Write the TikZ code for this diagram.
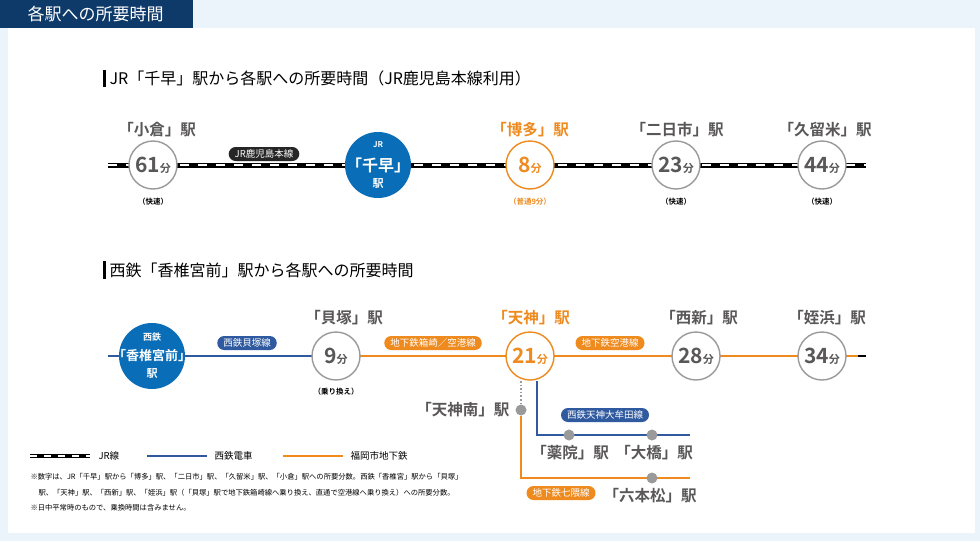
\documentclass[tikz,border=0pt]{standalone}
\usepackage{fontspec}
\setmainfont{Noto Sans CJK JP}[BoldFont={Noto Sans CJK JP Bold}]
\definecolor{bgb}{HTML}{EAF4FA}
\definecolor{navy}{HTML}{0E3A6A}
\definecolor{cblue}{HTML}{0A6DB8}
\definecolor{nblue}{HTML}{2F5AA0}
\definecolor{orng}{HTML}{EE8A1E}
\definecolor{gtx}{HTML}{595757}
\definecolor{gci}{HTML}{9A9A9A}
\begin{document}
\begin{tikzpicture}[x=1pt,y=-1pt,
  st/.style={circle,draw=gci,line width=1.4pt,fill=white,minimum size=48pt,inner sep=0pt,text=gtx},
  ost/.style={st,draw=orng,text=orng},
  big/.style={circle,fill=cblue,minimum size=66pt,inner sep=0pt},
  bt/.style={text=white,font=\bfseries,inner sep=0pt},
  lbl/.style={text=gtx,font=\fontsize{15.5}{15.5}\selectfont\bfseries},
  olbl/.style={lbl,text=orng},
  sub/.style={text=black,font=\fontsize{7.5}{7.5}\selectfont\bfseries},
  pill/.style={rounded corners=7pt,fill=#1,text=white,font=\fontsize{9.5}{9.5}\selectfont,inner xsep=6pt,inner ysep=2pt,minimum height=14pt},
  dot/.style={circle,fill=gci,minimum size=11pt,inner sep=0pt},
  jr/.style={line width=5pt,black},
  jrw/.style={line width=2.6pt,white,dash pattern=on 9pt off 9pt},
  note/.style={font=\fontsize{7.3}{9}\selectfont,anchor=west,text=black}]
\useasboundingbox (0,0) rectangle (980,541);
\fill[bgb] (0,0) rectangle (980,541);
\fill[white] (8,28) rectangle (975,533);
\fill[navy] (0,0) rectangle (193,28);
\node[text=white,anchor=west,font=\fontsize{17}{17}\selectfont] (ttl) at (24,14) {各駅への所要時間};
% section titles
\fill[black] (103,70) rectangle (106,87);
\node[anchor=west,font=\fontsize{16}{16}\selectfont] (t1) at (106,78) {JR「千早」駅から各駅への所要時間（JR鹿児島本線利用）};
\fill[black] (103,261) rectangle (106,279);
\node[anchor=west,font=\fontsize{16}{16}\selectfont] (t2) at (106,270) {西鉄「香椎宮前」駅から各駅への所要時間};
% JR line
\coordinate (jl) at (108,165); \coordinate (jr) at (866,165);
\draw[jr] (jl) -- (jr);
\draw[jrw] (jl) -- (jr);
\newcommand{\mn}[1]{{\fontsize{21}{21}\selectfont\bfseries #1}{\fontsize{11}{11}\selectfont\bfseries 分}}
\node[st] (kok) at (153,165) {\mn{61}};
\node[big] (chi) at (378,165) {};
\node[bt,font=\fontsize{8}{8}\selectfont\bfseries] at (378,145) {JR};
\node[bt,font=\fontsize{16}{16}\selectfont\bfseries] at (378,165) {「千早」};
\node[bt,font=\fontsize{11}{11}\selectfont\bfseries] at (378,184) {駅};
\node[ost] (hak) at (530,165) {\mn{8}};
\node[st] (fut) at (676,165) {\mn{23}};
\node[st] (kur) at (822,165) {\mn{44}};
\node[lbl] at (157,130) {「小倉」駅};
\node[olbl] at (530,130) {「博多」駅};
\node[lbl] at (677,130) {「二日市」駅};
\node[lbl] at (825,130) {「久留米」駅};
\node[sub] at (153,202) {（快速）};
\node[sub,text=orng] at (530,202) {（普通9分）};
\node[sub] at (676,202) {（快速）};
\node[sub] at (822,202) {（快速）};
\node[pill=black!85] (pj) at (264,154) {JR鹿児島本線};
% Nishitetsu / subway line
\coordinate (nl) at (108,356); \coordinate (nr) at (866,356);
\draw[nblue,line width=2.2pt] (nl) -- (336,356);
\draw[orng,line width=2.2pt] (336,356) -- (nr);
\draw[black,line width=2.2pt] (858,356) -- (nr);
\node[big] (kas) at (152,356) {};
\node[bt,font=\fontsize{9}{9}\selectfont\bfseries] at (152,337) {西鉄};
\node[bt,font=\fontsize{13}{13}\selectfont\bfseries] at (152,356) {「香椎宮前」};
\node[bt,font=\fontsize{11}{11}\selectfont\bfseries] at (152,374) {駅};
\node[st] (kai) at (336,356) {\mn{9}};
\node[ost] (ten) at (530,356) {\mn{21}};
\node[st] (nis) at (696,356) {\mn{28}};
\node[st] (mei) at (822,356) {\mn{34}};
\node[lbl] at (344,318) {「貝塚」駅};
\node[olbl] at (531,318) {「天神」駅};
\node[lbl] at (699,318) {「西新」駅};
\node[lbl] at (827,318) {「姪浜」駅};
\node[sub] at (336,392) {（乗り換え）};
\node[pill=nblue] at (247,343) {西鉄貝塚線};
\node[pill=orng] at (433,343) {地下鉄箱崎／空港線};
\node[pill=orng] at (610,343) {地下鉄空港線};
% branches
\node[dot] (tmn) at (521,410) {};
\draw[gci,line width=1.6pt,dotted] (521,381) -- (tmn);
\coordinate (oc) at (521,478); \coordinate (oe) at (690,478);
\draw[orng,line width=2pt] (tmn) -- (oc) -- (oe);
\coordinate (bt) at (537,381); \coordinate (bc) at (537,435); \coordinate (be) at (690,435);
\draw[nblue,line width=2pt] (bt) -- (bc) -- (be);
\node[dot] (yak) at (569,435) {};
\node[dot] (oha) at (652,435) {};
\node[dot] (rop) at (652,478) {};
\node[lbl,anchor=east] at (513,410) {「天神南」駅};
\node[lbl] at (570,453) {「薬院」駅};
\node[lbl] at (654,453) {「大橋」駅};
\node[lbl] at (650,496) {「六本松」駅};
\node[pill=nblue] at (605,415) {西鉄天神大牟田線};
\node[pill=orng] at (561,493) {地下鉄七隈線};
% legend
\coordinate (l1a) at (30,456); \coordinate (l1b) at (90,456);
\draw[line width=3.5pt,black] (l1a) -- (l1b);
\draw[line width=1.6pt,white,dash pattern=on 7pt off 7pt] (l1a) -- (l1b);
\node[anchor=west,font=\fontsize{9.5}{9.5}\selectfont] at (95,456) {JR線};
\draw[nblue,line width=1.5pt] (147,456) -- (207,456);
\node[anchor=west,font=\fontsize{9.5}{9.5}\selectfont] at (211,456) {西鉄電車};
\draw[orng,line width=1.5pt] (283,456) -- (343,456);
\node[anchor=west,font=\fontsize{9.5}{9.5}\selectfont] at (347,456) {福岡市地下鉄};
\node[note] at (27,477) {※数字は、JR「千早」駅から「博多」駅、「二日市」駅、「久留米」駅、「小倉」駅への所要分数。西鉄「香椎宮」駅から「貝塚」};
\node[note] at (35,493) {駅、「天神」駅、「西新」駅、「姪浜」駅（「貝塚」駅で地下鉄箱崎線へ乗り換え、直通で空港線へ乗り換え）への所要分数。};
\node[note] at (27,508) {※日中平常時のもので、乗換時間は含みません。};
\end{tikzpicture}
\end{document}
